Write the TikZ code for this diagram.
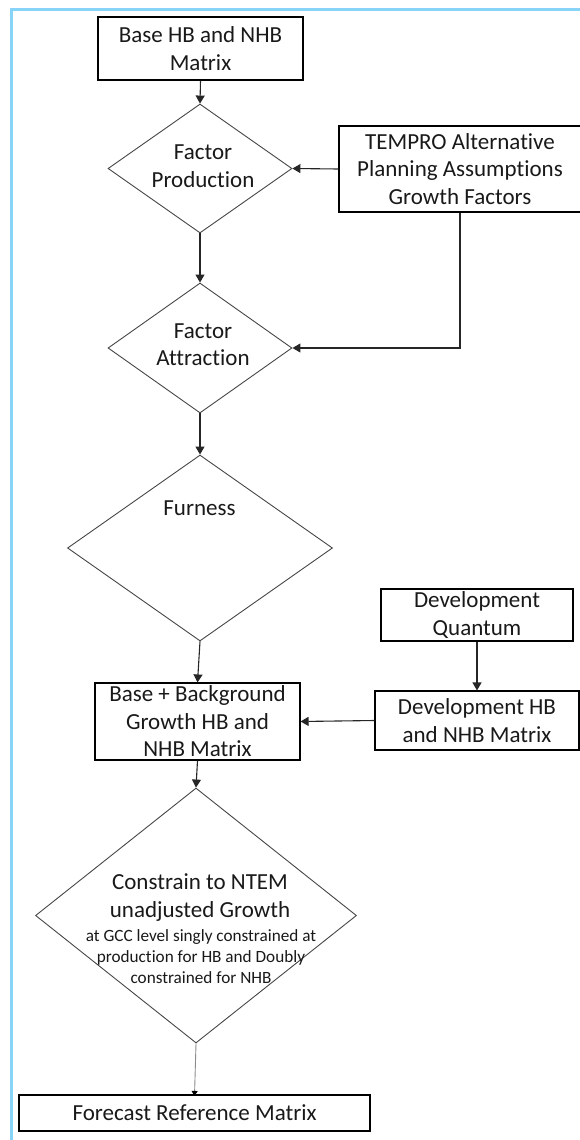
\documentclass[tikz,border=0pt]{standalone}
\usepackage{fontspec}
\setmainfont{Carlito}[Ligatures=NoCommon]
\usetikzlibrary{shapes.geometric,arrows.meta}
\definecolor{frameblue}{RGB}{135,212,248}
\definecolor{txt}{RGB}{25,25,25}
\definecolor{diag}{RGB}{70,70,70}
\begin{document}
\begin{tikzpicture}[x=1pt,y=-1pt,
  box/.style={draw=black, line width=1.1pt, inner sep=0pt, align=center,
    font=\fontsize{23}{27.5}\selectfont, text=txt},
  dia/.style={draw=diag, line width=0.9pt, diamond, inner sep=0pt},
  lbl/.style={align=center, font=\fontsize{23}{27.5}\selectfont, text=txt, inner sep=0pt},
  small/.style={align=center, font=\fontsize{17.2}{21}\selectfont, text=txt, inner sep=0pt},
  arr/.style={draw=black!85, line width=1.1pt, -{Triangle[width=9pt,length=8pt]}},
  thinarr/.style={draw=black!45, line width=0.9pt, -{Triangle[width=6pt,length=5pt,fill=black,color=black]}},
  border/.style={draw=frameblue, line width=3pt},
]
\useasboundingbox (0,0) rectangle (579,1140);
\draw[border] (11,10) rectangle (640,1200);

% nodes
\node[box, minimum width=205pt, minimum height=63pt] (base) at (200.5,48.5) {Base HB and NHB\\Matrix};
\node[dia, minimum width=184pt, minimum height=129pt] (fp) at (200,168.5) {};
\node[lbl] (fptext) at (203,166) {Factor\\Production};
\node[box, minimum width=242pt, minimum height=86pt] (tp) at (460,169) {TEMPRO Alternative\\Planning Assumptions\\Growth Factors};
\node[dia, minimum width=184pt, minimum height=130pt] (fa) at (200,348) {};
\node[lbl] (fatext) at (203,344.5) {Factor\\Attraction};
\node[dia, minimum width=265pt, minimum height=186pt] (fu) at (200,548) {};
\node[lbl] (futext) at (199.5,508) {Furness};
\node[box, minimum width=192pt, minimum height=52pt] (dq) at (477,615) {Development\\Quantum};
\node[box, minimum width=204pt, minimum height=59pt] (dhb) at (477,720.5) {Development HB\\and NHB Matrix};
\node[box, minimum width=205pt, minimum height=77pt] (bbg) at (197.5,721.5) {Base + Background\\Growth HB and\\NHB Matrix};
\node[dia, minimum width=321pt, minimum height=255pt] (cons) at (196,915.5) {};
\node[lbl] (constext) at (200,897.5) {Constrain to NTEM\\unadjusted Growth};
\node[small] (conssmall) at (201,957) {at GCC level singly constrained at\\production for HB and Doubly\\constrained for NHB};
\node[box, minimum width=351pt, minimum height=36pt] (fc) at (194.5,1113) {Forecast Reference Matrix};

% connectors
\draw[arr] (base.south) -- (fp.north);
\draw[arr] (tp.west) -- (fp.east);
\draw[arr] (fp.south) -- (fa.north);
\draw[arr] (tp.south) |- (fa.east);
\draw[arr] (fa.south) -- (fu.north);
\draw[arr] (fu.south) -- (bbg.north);
\draw[arr] (dq.south) -- (dhb.north);
\draw[arr] (dhb.west) -- (bbg.east);
\draw[arr] (bbg.south) -- (cons.north);
\draw[thinarr] (cons.south) -- ([yshift=-1.5pt]fc.north);
\end{tikzpicture}
\end{document}
